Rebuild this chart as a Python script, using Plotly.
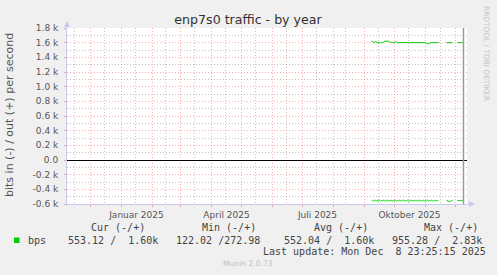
import pandas as pd
import plotly.graph_objects as go

# ---------------- data ----------------
title = "enp7s0 traffic - by year"
y_title = "bits in (-) / out (+) per second"
y_tick_vals = [-600, -400, -200, 0, 200, 400, 600, 800, 1000, 1200, 1400, 1600, 1800]
y_tick_text = ["-0.6 k", "-0.4 k", "-0.2 k", "0.0", "0.2 k", "0.4 k", "0.6 k",
               "0.8 k", "1.0 k", "1.2 k", "1.4 k", "1.6 k", "1.8 k"]
y_minor_vals = [-500, -300, -100, 100, 300, 500, 700, 900, 1100, 1300, 1500, 1700]
x_label_dates = ["2025-01-16", "2025-04-16", "2025-07-16", "2025-10-16"]
x_label_text = ["Januar 2025", "April 2025", "Juli 2025", "Oktober 2025"]
month_starts = ["2024-12-01", "2025-01-01", "2025-02-01", "2025-03-01", "2025-04-01",
                "2025-05-01", "2025-06-01", "2025-07-01", "2025-08-01", "2025-09-01",
                "2025-10-01", "2025-11-01", "2025-12-01"]
minor_dates = ["2024-11-15", "2024-12-15", "2025-01-15", "2025-02-14", "2025-03-15",
               "2025-04-15", "2025-05-15", "2025-06-15", "2025-07-15", "2025-08-13",
               "2025-09-15", "2025-10-15", "2025-11-16"]
x_range = ["2024-11-07 12:00", "2025-12-12 12:00"]

seg_starts = ["2025-09-08", "2025-11-22", "2025-12-03"]
out_segs = [
    [1620, 1612, 1600, 1600, 1615, 1602, 1600, 1600, 1604, 1600, 1600, 1601, 1605,
     1620, 1622, 1620, 1621, 1620, 1612,
     1600, 1600, 1602, 1600, 1600,
     1615,
     1600, 1600, 1601, 1600, 1600, 1600, 1602, 1600, 1600, 1600,
     1601, 1600, 1600, 1600, 1600, 1603, 1600, 1600, 1600, 1600,
     1601, 1600, 1600, 1600, 1602, 1600, 1600, 1600, 1600, 1600,
     1586, 1580, 1590, 1583,
     1600, 1600, 1601, 1600, 1600, 1600, 1600, 1600, 1600],
    [1600, 1601, 1600, 1600, 1602, 1600, 1600],
    [1600, 1600, 1601, 1600, 1600, 1600],
]
in_segs = [
    [-548, -560, -550, -558, -546, -561, -552, -557, -547, -560, -551, -556, -548, -561, -550, -557, -546, -560, -552, -558,
     -547, -561, -550, -556, -548, -560, -551, -557, -546, -561, -550, -558, -547, -560, -552, -556, -548, -561, -550, -557,
     -546, -560, -551, -558, -547, -561, -550, -556, -548, -560, -552, -557, -546, -561, -550, -558, -547, -560, -551, -556,
     -548, -561, -550, -557, -546, -560, -552, -555],
    [-550, -556, -565, -568, -561, -552, -550],
    [-551, -557, -552, -555, -553, -553],
]

series_name = "bps"
legend_headers = ["Cur (-/+)", "Min (-/+)", "Avg (-/+)", "Max (-/+)"]
legend_values = ["553.12 /  1.60k", "122.02 /272.98", "552.04 /  1.60k", "955.28 /  2.83k"]
last_update_text = "Last update: Mon Dec  8 23:25:15 2025"
last_update_time = "2025-12-08 23:25:15"
footer = "Munin 2.0.73"
watermark = "RRDTOOL / TOBI OETIKER"

# ---------------- build series with gaps ----------------
xs, out_y, in_y = [], [], []
for start, o, i in zip(seg_starts, out_segs, in_segs):
    d = pd.date_range(start, periods=len(o), freq="D")
    if xs:
        xs.append(d[0] - pd.Timedelta(days=1))
        out_y.append(None)
        in_y.append(None)
    xs.extend(list(d))
    out_y.extend(o)
    in_y.extend(i)

# ---------------- layout helpers ----------------
W, H = 497, 275
L, R, T, B = 67, 30, 28, 71
PW, PH = W - L - R, H - T - B


def px(x):
    return (x - L) / PW


def py(y):
    return (H - B - y) / PH


def nb(s):
    return s.replace(" ", "\u00a0")


GREEN = "#00cc00"
MGRID = "rgba(255,0,0,0.33)"
GRID = "rgba(110,110,110,0.42)"
DASH = "1px,2px"
AXIS = "#c8c8f0"
TXT = "#555555"

fig = go.Figure()
fig.add_trace(go.Scatter(x=xs, y=out_y, mode="lines", line=dict(color=GREEN, width=1),
                         connectgaps=False, showlegend=False, xaxis="x", yaxis="y"))
fig.add_trace(go.Scatter(x=xs, y=in_y, mode="lines", line=dict(color=GREEN, width=1),
                         connectgaps=False, showlegend=False, xaxis="x2", yaxis="y"))

fig.add_shape(type="line", xref="x", yref="paper", x0=last_update_time, x1=last_update_time,
              y0=0, y1=1, line=dict(color="#999999", width=1.5))

ann = []
ann.append(dict(text=y_title, x=px(10), y=py(115), xref="paper", yref="paper",
                xanchor="center", yanchor="middle", textangle=-90, showarrow=False,
                font=dict(family="DejaVu Sans", size=11, color=TXT)))
ann.append(dict(text=watermark, x=px(487), y=py(53), xref="paper", yref="paper",
                xanchor="center", yanchor="middle", textangle=90, showarrow=False,
                font=dict(family="DejaVu Sans", size=7.4, color="#c4c4c4")))
ann.append(dict(text="", x=px(67), y=py(21), xref="paper", yref="paper", ax=0, ay=9,
                showarrow=True, arrowhead=2, arrowsize=1.2, arrowwidth=1, arrowcolor=AXIS))
ann.append(dict(text="", x=px(475), y=py(204), xref="paper", yref="paper", ax=-9, ay=0,
                showarrow=True, arrowhead=2, arrowsize=1.2, arrowwidth=1, arrowcolor=AXIS))
mono = dict(family="DejaVu Sans Mono", size=10, color="#444444")
header_x = [88.5, 200, 311.5, 422]
value_x = [65.5, 173.8, 282, 390]
for t, x in zip(legend_headers, header_x):
    ann.append(dict(text=nb(t), x=px(x), y=py(227.5), xref="paper", yref="paper",
                    xanchor="left", yanchor="middle", showarrow=False, font=mono))
for t, x in zip(legend_values, value_x):
    ann.append(dict(text=nb(t), x=px(x), y=py(240), xref="paper", yref="paper",
                    xanchor="left", yanchor="middle", showarrow=False, font=mono))
ann.append(dict(text=series_name, x=px(26), y=py(240), xref="paper", yref="paper",
                xanchor="left", yanchor="middle", showarrow=False, font=mono))
ann.append(dict(text=nb(last_update_text), x=px(260.8), y=py(251.7), xref="paper", yref="paper",
                xanchor="left", yanchor="middle", showarrow=False, font=mono))
ann.append(dict(text=footer, x=px(248), y=py(263.7), xref="paper", yref="paper",
                xanchor="center", yanchor="middle", showarrow=False,
                font=dict(family="DejaVu Sans", size=7.6, color="#c0c0c0")))

fig.add_shape(type="rect", xref="paper", yref="paper", x0=px(14), x1=px(19.5),
              y0=py(243), y1=py(237.5), fillcolor=GREEN, line=dict(width=0))

fig.update_layout(
    width=W, height=H, autosize=False,
    margin=dict(l=L, r=R, t=T, b=B, pad=0),
    paper_bgcolor="#f0f0f0", plot_bgcolor="#ffffff",
    showlegend=False,
    title=dict(text=title, x=248 / W, y=1 - 20 / H, xref="container", yref="container",
               xanchor="center", yanchor="middle",
               font=dict(family="DejaVu Sans", size=12.6, color="#333333")),
    xaxis=dict(type="date", range=x_range, tickmode="array", tickvals=x_label_dates,
               ticktext=x_label_text, showgrid=False, ticks="", zeroline=False,
               showline=True, linecolor=AXIS, linewidth=1,
               tickfont=dict(family="DejaVu Sans", size=9, color=TXT),
               ticklabelstandoff=2,
               minor=dict(tickmode="array", tickvals=month_starts, showgrid=True,
                          gridcolor=MGRID, griddash=DASH, gridwidth=1,
                          ticks="outside", ticklen=2, tickcolor=MGRID),
               fixedrange=True),
    xaxis2=dict(type="date", overlaying="x", matches="x", anchor="y", side="bottom",
                tickmode="array", tickvals=minor_dates, showticklabels=False, ticks="",
                showgrid=True, gridcolor=GRID, griddash=DASH, gridwidth=1,
                zeroline=False, showline=False),
    yaxis=dict(range=[-600, 1800], tickmode="array", tickvals=y_tick_vals, ticktext=y_tick_text,
               showgrid=True, gridcolor=MGRID, griddash=DASH, gridwidth=1,
               zeroline=True, zerolinecolor="#000000", zerolinewidth=1,
               showline=True, linecolor=AXIS, linewidth=1,
               ticks="outside", ticklen=2, tickcolor=MGRID,
               tickfont=dict(family="DejaVu Sans", size=9, color=TXT),
               ticklabelstandoff=4,
               minor=dict(tickmode="array", tickvals=y_minor_vals, showgrid=True,
                          gridcolor=GRID, griddash=DASH, gridwidth=1),
               fixedrange=True),
    annotations=ann,
)

fig.write_html("out.html")
